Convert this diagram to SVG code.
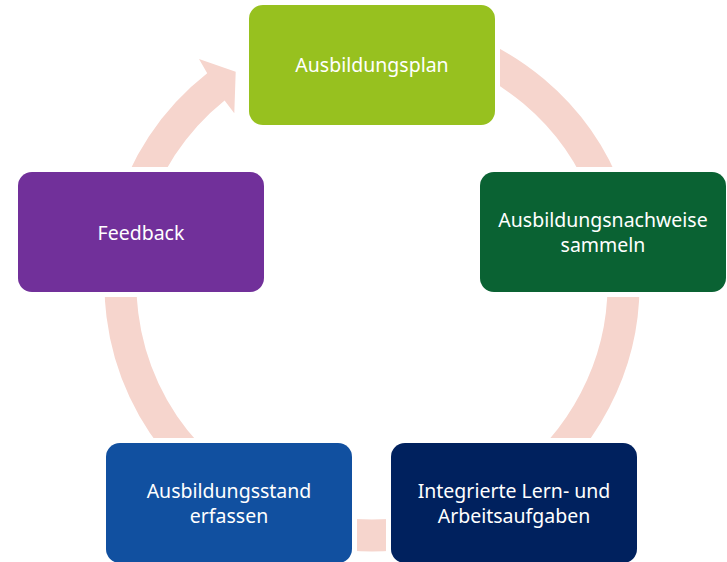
<svg xmlns="http://www.w3.org/2000/svg" width="727" height="562" viewBox="0 0 727 562">
  <style>
    .arc { fill: none; stroke: #F6D5CD; stroke-width: 32; stroke-linecap: butt; }
    .arrow { fill: #F6D5CD; }
    .box text { font-family: "Noto Sans", "Open Sans", sans-serif; font-size: 19.5px; fill: #FFFFFF; text-anchor: middle; }
  </style>
  <defs>
    <mask id="gaps" maskUnits="userSpaceOnUse" x="0" y="0" width="727" height="562">
      <rect x="0" y="0" width="727" height="562" fill="#fff"/>
      <rect x="244" y="0" width="256" height="130" fill="#000"/>
      <rect x="475" y="167" width="256" height="130" fill="#000"/>
      <rect x="386" y="438" width="256" height="130" fill="#000"/>
      <rect x="101" y="438" width="256" height="130" fill="#000"/>
      <rect x="13" y="167" width="256" height="130" fill="#000"/>
    </mask>
  </defs>
  <rect x="0" y="0" width="727" height="562" fill="#FFFFFF"/>
  <g id="connectors" mask="url(#gaps)">
    <path class="arc" d="M 415.7 36.3 A 251.5 251.5 0 0 1 608.3 198"/>
    <path class="arc" d="M 622.5 262.1 A 251.5 251.5 0 0 1 497.8 501.8"/>
    <path class="arc" d="M 415.7 531.7 A 251.5 251.5 0 0 1 328.3 531.7"/>
    <path class="arc" d="M 246.3 501.8 A 251.5 251.5 0 0 1 124.3 240.3"/>
    <path class="arrow" d="M 113.6 214.8 A 267.5 267.5 0 0 1 207.2 73.3 L 199 59 L 235.7 71.7 L 234.3 113.3 L 224.6 100.4 A 235.5 235.5 0 0 0 144.5 223 Z"/>
  </g>
  <g id="node-ausbildungsplan" class="box">
    <rect x="249" y="5" width="246" height="120" rx="14" fill="#97C11F"/>
    <text x="372" y="72">Ausbildungsplan</text>
  </g>
  <g id="node-nachweise" class="box">
    <rect x="480" y="172" width="246" height="120" rx="14" fill="#0A6233"/>
    <text x="603" y="227">Ausbildungsnachweise</text>
    <text x="603" y="252">sammeln</text>
  </g>
  <g id="node-aufgaben" class="box">
    <rect x="391" y="443" width="246" height="120" rx="14" fill="#00215E"/>
    <text x="514" y="498">Integrierte Lern- und</text>
    <text x="514" y="523">Arbeitsaufgaben</text>
  </g>
  <g id="node-ausbildungsstand" class="box">
    <rect x="106" y="443" width="246" height="120" rx="14" fill="#1150A0"/>
    <text x="229" y="498">Ausbildungsstand</text>
    <text x="229" y="523">erfassen</text>
  </g>
  <g id="node-feedback" class="box">
    <rect x="18" y="172" width="246" height="120" rx="14" fill="#71309A"/>
    <text x="141" y="240">Feedback</text>
  </g>
</svg>
